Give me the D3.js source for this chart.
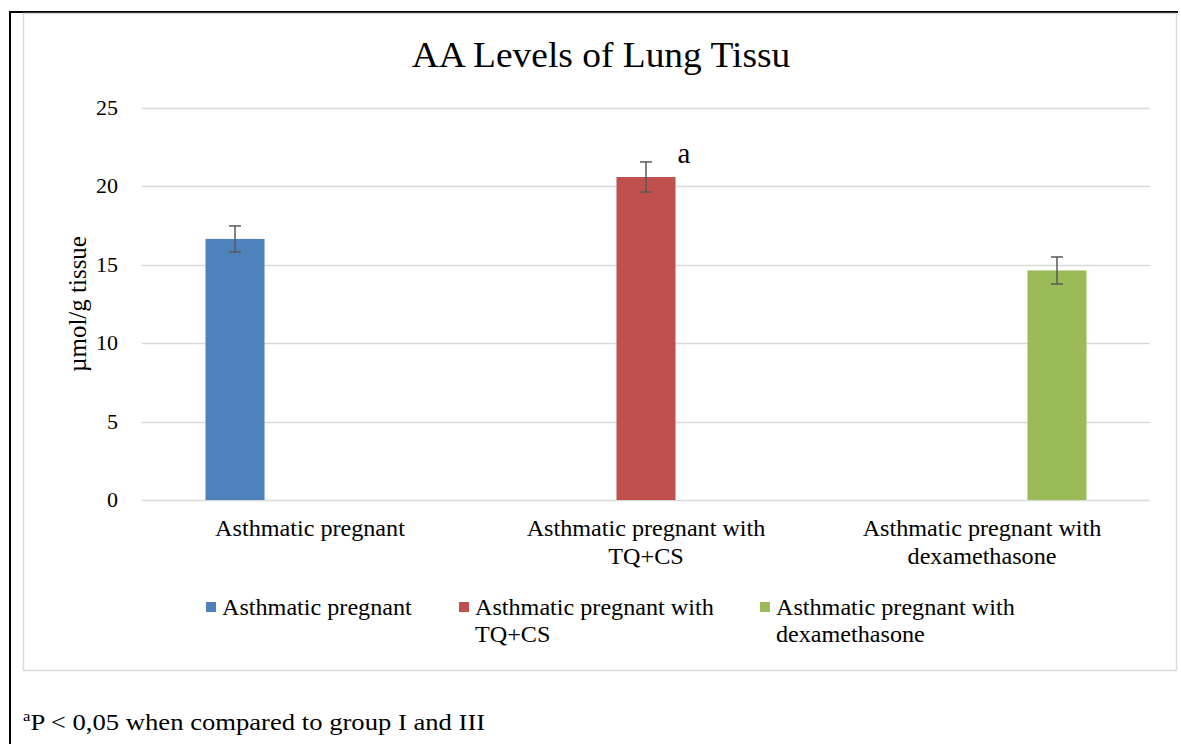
<!DOCTYPE html>
<html>
<head>
<meta charset="utf-8">
<script src="https://cdn.jsdelivr.net/npm/d3@7"></script>
<style>
  body { margin: 0; background: #fff; }
  svg text { font-family: "Liberation Serif", "Times New Roman", serif; fill: #000; }
</style>
</head>
<body>
<div id="chart"></div>
<script>
// chart data
var categories = ["Asthmatic pregnant", "Asthmatic pregnant with TQ+CS", "Asthmatic pregnant with dexamethasone"];
var categoryLines = [["Asthmatic pregnant"], ["Asthmatic pregnant with", "TQ+CS"], ["Asthmatic pregnant with", "dexamethasone"]];
var values = [16.65, 20.6, 14.64];
var errors = [0.83, 0.96, 0.86];
var sigLabels = ["", "a", ""];
var yTicks = [0, 5, 10, 15, 20, 25];
var colors = ["#4f81bd", "#c0504d", "#9bbb59"];

var width = 1181,
  height = 744,
  plotLeft = 142,
  plotRight = 1150,
  plotTop = 108,
  plotBottom = 500,
  stretch = 1.05; // the source text is a touch wider than the font

var svg = d3.select("#chart").append("svg")
  .attr("width", width)
  .attr("height", height);

function place(x, y, sx) {
  return "translate(" + x + "," + y + ") scale(" + (sx || stretch) + ",1)";
}

// outer page border (black, left + top)
svg.append("path")
  .attr("d", "M10,744 V12 H1178")
  .attr("fill", "none")
  .attr("stroke", "#000")
  .attr("stroke-width", 2);

// chart frame
svg.append("rect")
  .attr("x", 23.5).attr("y", 13.5)
  .attr("width", 1153).attr("height", 657)
  .attr("fill", "#fff")
  .attr("stroke", "#d9d9d9")
  .attr("stroke-width", 1.5);

var y = d3.scaleLinear().domain([0, 25]).range([plotBottom, plotTop]);

var x0 = d3.scaleBand()
  .domain(categories)
  .range([plotLeft, plotRight])
  .padding(0);

var x1 = d3.scaleBand()
  .domain(categories)
  .range([0, x0.bandwidth()])
  .paddingInner(0.213)
  .paddingOuter(0.847);

// title
svg.append("text")
  .attr("transform", place(601, 67, 1.04))
  .attr("text-anchor", "middle")
  .style("font-size", "36px")
  .text("AA Levels of Lung Tissu");

// gridlines
svg.append("g").selectAll("line")
  .data(yTicks)
  .enter().append("line")
  .attr("x1", plotLeft).attr("x2", plotRight)
  .attr("y1", function(d) { return Math.round(y(d)) + 0.5; })
  .attr("y2", function(d) { return Math.round(y(d)) + 0.5; })
  .attr("stroke", "#d9d9d9")
  .attr("stroke-width", 1.5);

// y axis labels
var yAxis = svg.append("g")
  .attr("transform", "translate(" + (plotLeft - 24) + ",0)")
  .call(d3.axisLeft(y).tickValues(yTicks).tickSize(0).tickPadding(0));
yAxis.select(".domain").remove();
yAxis.selectAll(".tick")
  .attr("transform", function(d) { return place(0, y(d), 1.1); });
yAxis.selectAll("text")
  .attr("dy", "0.35em")
  .style("font-family", "'Liberation Serif', 'Times New Roman', serif")
  .style("font-size", "20px")
  .attr("fill", "#000");

svg.append("text")
  .attr("transform", "translate(86," + ((plotTop + plotBottom) / 2) + ") rotate(-90)")
  .attr("text-anchor", "middle")
  .style("font-size", "25px")
  .text("µmol/g tissue");

// bars
var bars = svg.append("g").selectAll("g")
  .data(categories)
  .enter().append("g")
  .attr("transform", function(d) { return "translate(" + x0(d) + ",0)"; });

bars.append("rect")
  .attr("x", function(d) { return x1(d); })
  .attr("width", x1.bandwidth())
  .attr("y", function(d, i) { return y(values[i]); })
  .attr("height", function(d, i) { return y(0) - y(values[i]); })
  .attr("fill", function(d, i) { return colors[i]; });

// error bars
var cx = function(d) { return x1(d) + x1.bandwidth() / 2; };
bars.append("line")
  .attr("x1", cx).attr("x2", cx)
  .attr("y1", function(d, i) { return y(values[i] + errors[i]); })
  .attr("y2", function(d, i) { return y(values[i] - errors[i]); })
  .attr("stroke", "#595959").attr("stroke-width", 1.5);
[1, -1].forEach(function(s) {
  bars.append("line")
    .attr("x1", function(d) { return cx(d) - 6; })
    .attr("x2", function(d) { return cx(d) + 6; })
    .attr("y1", function(d, i) { return y(values[i] + s * errors[i]); })
    .attr("y2", function(d, i) { return y(values[i] + s * errors[i]); })
    .attr("stroke", "#595959").attr("stroke-width", 1.5);
});

// significance letter
bars.append("text")
  .attr("transform", function(d, i) { return place(cx(d) + 38, y(values[i] + errors[i]) + 1, 1); })
  .attr("text-anchor", "middle")
  .style("font-size", "29px")
  .text(function(d, i) { return sigLabels[i]; });

// category labels
svg.append("g").selectAll("text")
  .data(categories)
  .enter().append("text")
  .attr("transform", function(d) { return place(x0(d) + x0.bandwidth() / 2, 536); })
  .attr("text-anchor", "middle")
  .style("font-size", "23px")
  .each(function(d, i) {
    d3.select(this).selectAll("tspan")
      .data(categoryLines[i])
      .enter().append("tspan")
      .attr("x", 0)
      .attr("dy", function(t, j) { return j === 0 ? 0 : 28; })
      .text(function(t) { return t; });
  });

// legend
var legendX = [206, 459, 760];
var legend = svg.append("g").selectAll("g")
  .data(categories)
  .enter().append("g")
  .attr("transform", function(d, i) { return "translate(" + legendX[i] + ",602)"; });
legend.append("rect")
  .attr("width", 10).attr("height", 10)
  .attr("fill", function(d, i) { return colors[i]; });
legend.append("text")
  .attr("transform", place(16, 13))
  .style("font-size", "23px")
  .each(function(d, i) {
    d3.select(this).selectAll("tspan")
      .data(categoryLines[i])
      .enter().append("tspan")
      .attr("x", 0)
      .attr("dy", function(t, j) { return j === 0 ? 0 : 27; })
      .text(function(t) { return t; });
  });

// footnote
var foot = svg.append("text")
  .attr("transform", place(23, 730, 1.11))
  .style("font-size", "24px");
foot.append("tspan")
  .attr("dy", -9)
  .style("font-size", "15px")
  .text("a");
foot.append("tspan")
  .attr("dy", 9)
  .text("P < 0,05 when compared to group I and III");
</script>
</body>
</html>
